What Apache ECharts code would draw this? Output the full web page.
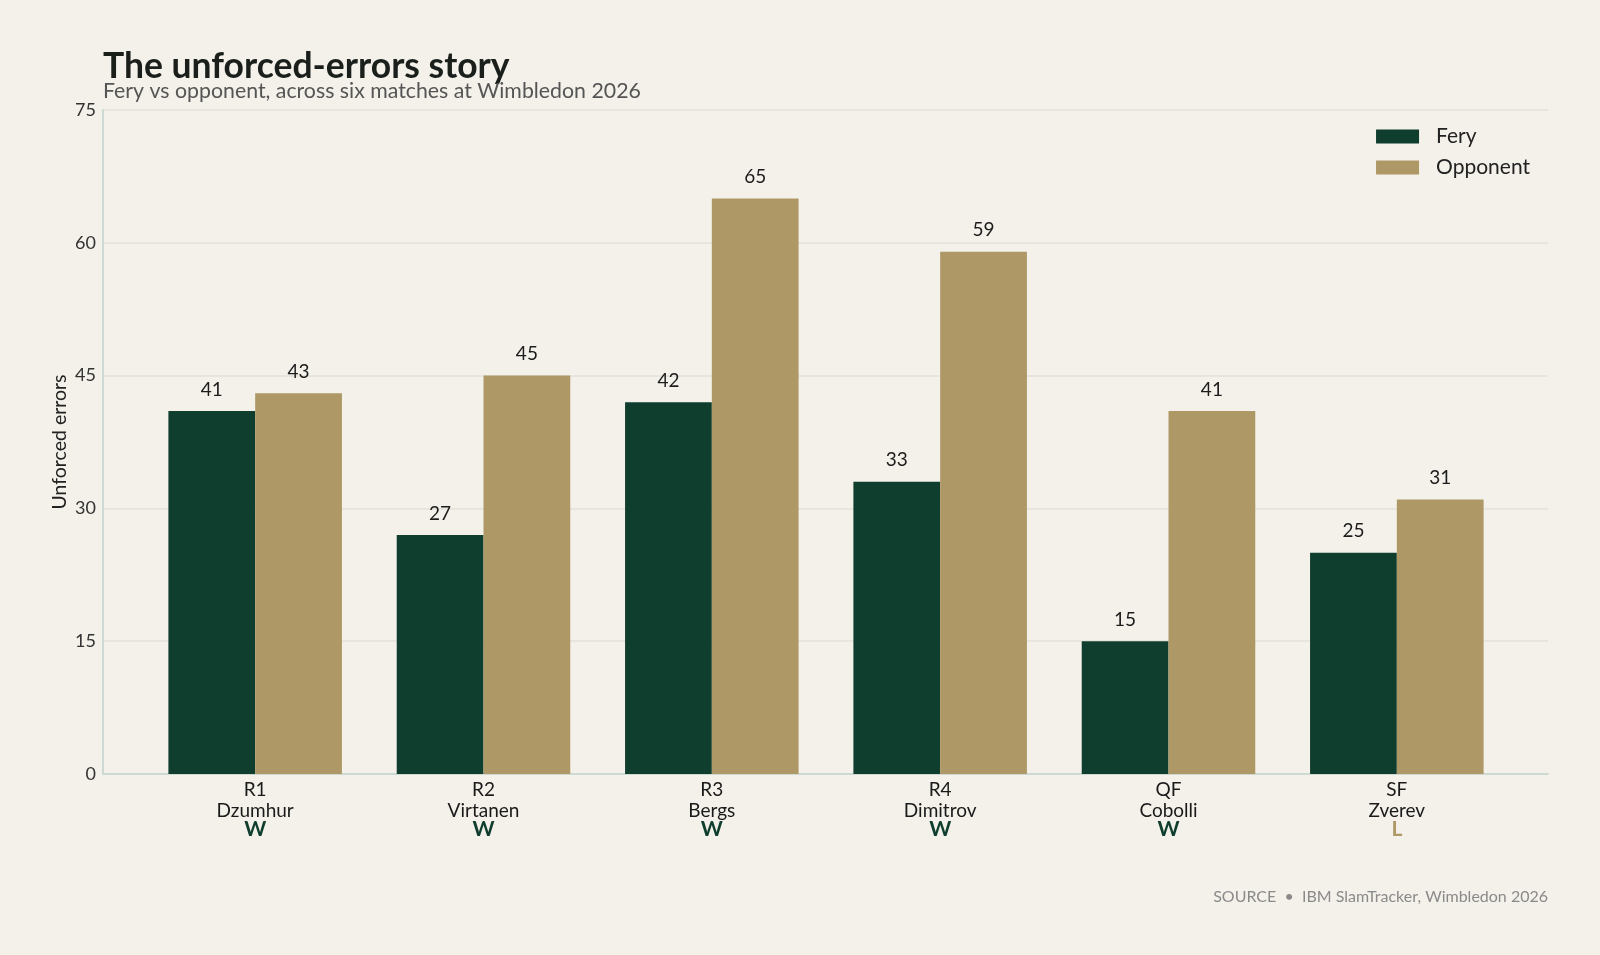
<!DOCTYPE html>
<html>
<head>
<meta charset="utf-8">
<script src="https://cdn.jsdelivr.net/npm/echarts@6/dist/echarts.min.js"></script>
<style>
  html, body { margin: 0; padding: 0; background: #f4f1ea; }
  #chart { width: 1600px; height: 955px; }
</style>
</head>
<body>
<div id="chart"></div>
<script>
var rounds = ['R1', 'R2', 'R3', 'R4', 'QF', 'SF'];
var opponents = ['Dzumhur', 'Virtanen', 'Bergs', 'Dimitrov', 'Cobolli', 'Zverev'];
var results = ['W', 'W', 'W', 'W', 'W', 'L'];
var feryErrors = [41, 27, 42, 33, 15, 25];
var opponentErrors = [43, 45, 65, 59, 41, 31];
var yTicks = [0, 15, 30, 45, 60, 75];

var green = '#0f3d2e';
var tan = '#ad9866';
var font = 'Lato, "Noto Sans", sans-serif';

var chart = echarts.init(document.getElementById('chart'));
chart.setOption({
    backgroundColor: '#f4f1ea',
    animation: false,
    textStyle: { fontFamily: font },
    title: {
        text: 'The unforced-errors story',
        subtext: 'Fery vs opponent, across six matches at Wimbledon 2026',
        left: 98,
        top: 44,
        itemGap: -4,
        textStyle: { fontFamily: font, fontSize: 35.5, fontWeight: 'bold', color: '#1a1f1c' },
        subtextStyle: { fontFamily: font, fontSize: 21.3, color: '#555' }
    },
    legend: {
        orient: 'vertical',
        right: 70,
        top: 126,
        padding: 0,
        itemGap: 10,
        itemWidth: 43,
        itemHeight: 14,
        icon: 'rect',
        data: ['Fery', 'Opponent'],
        textStyle: { fontFamily: font, fontSize: 21, color: '#222', padding: [0, 0, 0, 12] }
    },
    grid: [
        { left: 103, right: 52, top: 110, bottom: 181 },
        { left: 141, right: 89, top: 110, bottom: 181 }
    ],
    xAxis: [
        {
            gridIndex: 0, type: 'value', min: 0, max: 1,
            axisLine: { show: true, lineStyle: { color: '#cddad4', width: 2 } },
            axisTick: { show: false }, axisLabel: { show: false }, splitLine: { show: false }
        },
        {
            gridIndex: 1, type: 'category', data: rounds,
            axisLine: { show: false }, axisTick: { show: false },
            axisLabel: {
                margin: 5,
                formatter: function (value, idx) {
                    var r = results[idx];
                    return '{t|' + value + '}\n{t|' + opponents[idx] + '}\n{' + (r == 'W' ? 'w' : 'l') + '|' + r + '}';
                },
                rich: {
                    t: { fontFamily: font, fontSize: 19, color: '#1a1a1a', lineHeight: 21 },
                    w: { fontFamily: font, fontSize: 21, fontWeight: 'bold', color: green, lineHeight: 17 },
                    l: { fontFamily: font, fontSize: 21, fontWeight: 'bold', color: tan, lineHeight: 17 }
                }
            }
        }
    ],
    yAxis: [
        {
            gridIndex: 0, type: 'value', min: 0, max: 75, interval: 15,
            name: 'Unforced errors', nameLocation: 'middle', nameGap: 33,
            nameMoveOverlap: false,
            nameTextStyle: { fontFamily: font, fontSize: 19.5, color: '#222' },
            axisLine: { show: true, lineStyle: { color: '#cddad4', width: 2 } },
            axisTick: { show: false },
            axisLabel: {
                margin: 7, fontSize: 18, color: '#333', fontFamily: font,
                formatter: function (v) { return yTicks.indexOf(v) >= 0 ? String(v) : ''; }
            },
            splitLine: { show: true, lineStyle: { color: '#e2e0da', width: 1.5 } }
        },
        {
            gridIndex: 1, type: 'value', min: 0, max: 75, interval: 15,
            axisLine: { show: false }, axisTick: { show: false },
            axisLabel: { show: false }, splitLine: { show: false }
        }
    ],
    series: [
        {
            name: 'Fery', type: 'bar', xAxisIndex: 1, yAxisIndex: 1,
            data: feryErrors,
            itemStyle: { color: green },
            barGap: '0%', barCategoryGap: '24%',
            label: { show: true, position: 'top', distance: 12, fontFamily: font, fontSize: 19, color: '#1c1c1c' }
        },
        {
            name: 'Opponent', type: 'bar', xAxisIndex: 1, yAxisIndex: 1,
            data: opponentErrors,
            itemStyle: { color: tan },
            barGap: '0%', barCategoryGap: '24%',
            label: { show: true, position: 'top', distance: 12, fontFamily: font, fontSize: 19, color: '#1c1c1c' }
        }
    ],
    graphic: [
        {
            type: 'text', right: 52, top: 889,
            style: {
                text: 'SOURCE  \u2022  IBM SlamTracker, Wimbledon 2026',
                fontFamily: font, fontSize: 16, fill: '#8a8a8a'
            }
        }
    ]
});
</script>
</body>
</html>
